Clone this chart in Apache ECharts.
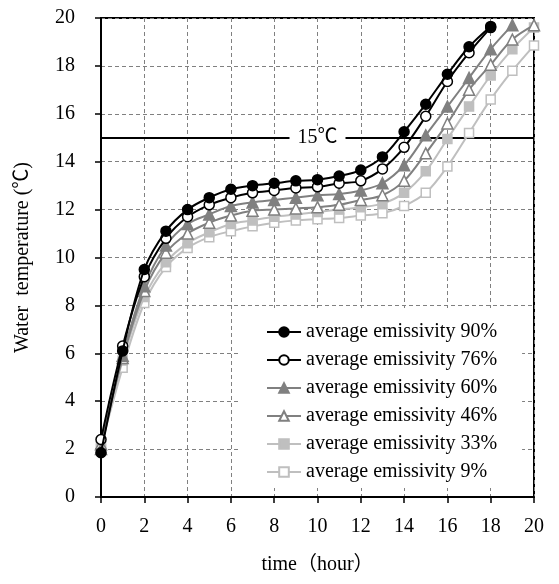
<!DOCTYPE html>
<html>
<head>
<meta charset="utf-8">
<script src="https://cdn.jsdelivr.net/npm/echarts@6/dist/echarts.min.js"></script>
<style>
html,body{margin:0;padding:0;background:#fff;}
#chart{width:559px;height:584px;}
</style>
</head>
<body>
<div id="chart"></div>
<script>
const hours = [0,1,2,3,4,5,6,7,8,9,10,11,12,13,14,15,16,17,18,19,20];
const seriesNames = ['average emissivity 90%','average emissivity 76%','average emissivity 60%','average emissivity 46%','average emissivity 33%','average emissivity 9%'];
const e90 = [1.85,6.1,9.5,11.1,12.0,12.5,12.85,13.0,13.1,13.2,13.25,13.4,13.65,14.2,15.25,16.4,17.65,18.8,19.65];
const e76 = [2.4,6.3,9.2,10.8,11.7,12.2,12.5,12.7,12.8,12.9,12.95,13.1,13.2,13.7,14.6,15.9,17.35,18.55,19.6];
const e60 = [2.0,5.9,8.8,10.5,11.4,11.8,12.15,12.3,12.4,12.5,12.6,12.65,12.8,13.1,13.85,15.1,16.3,17.5,18.7,19.7];
const e46 = [2.2,5.8,8.6,10.2,11.0,11.45,11.75,11.95,12.0,12.05,12.1,12.2,12.4,12.6,13.2,14.35,15.6,17.0,18.05,19.1,19.7];
const e33 = [2.0,5.7,8.35,9.8,10.6,11.05,11.4,11.55,11.7,11.8,11.9,12.0,12.1,12.25,12.7,13.6,14.95,16.3,17.6,18.7,19.6];
const e9  = [2.1,5.4,8.1,9.6,10.4,10.85,11.1,11.3,11.45,11.55,11.6,11.65,11.75,11.85,12.15,12.7,13.8,15.2,16.6,17.8,18.85];
const refLevel = 15;
const refLabel = '15℃';
const xTitle = 'time（hour）';
const yTitle = 'Water  temperature (℃)';

const FONT = "'Liberation Serif', 'Noto Sans CJK JP', serif";
const styles = [
  {vals:e90, symbol:'circle',   line:'#000000', fill:'#000000', size:10},
  {vals:e76, symbol:'circle',   line:'#000000', fill:'#ffffff', size:10},
  {vals:e60, symbol:'triangle', line:'#808080', fill:'#808080', size:11},
  {vals:e46, symbol:'triangle', line:'#808080', fill:'#ffffff', size:11},
  {vals:e33, symbol:'rect',     line:'#bfbfbf', fill:'#bfbfbf', size:9},
  {vals:e9,  symbol:'rect',     line:'#bfbfbf', fill:'#ffffff', size:9}
];

const series = styles.map((s, i) => {
  const o = {
    name: seriesNames[i],
    type: 'line',
    smooth: 0.35,
    symbol: s.symbol,
    symbolSize: s.size,
    z: 10 - i,
    lineStyle: {color: s.line, width: 2},
    itemStyle: {color: s.fill, borderColor: s.line, borderWidth: 1.5},
    data: s.vals.map((v, k) => [hours[k], v]),
    animation: false
  };
  if (i === 0) {
    o.markLine = {
      silent: true,
      symbol: ['none','none'],
      animation: false,
      lineStyle: {color:'#000', width:2, type:'solid'},
      label: {show:true, position:'middle', distance:0, verticalAlign:'middle', formatter: refLabel, color:'#000',
              fontSize:20, fontFamily:FONT, backgroundColor:'#fff', padding:[2,8]},
      data: [{yAxis: refLevel}]
    };
  }
  return o;
});

const chart = echarts.init(document.getElementById('chart'), null, {renderer:'canvas'});
chart.setOption({
  backgroundColor: '#fff',
  animation: false,
  grid: {left:101, right:25, top:18, bottom:87, show:true, borderColor:'#000', borderWidth:2, backgroundColor:'transparent'},
  legend: {
    data: seriesNames,
    orient: 'vertical',
    left: 241, top: 308,
    padding: [14, 25, 6, 25],
    backgroundColor: '#fff',
    itemWidth: 34, itemHeight: 12,
    itemGap: 8,
    textStyle: {fontSize:20, fontFamily:FONT, color:'#000'}
  },
  xAxis: {
    type:'value', min:0, max:20, interval:2,
    name: xTitle, nameLocation:'middle', nameGap:58,
    nameTextStyle:{fontSize:20, fontFamily:FONT, color:'#000'},
    axisLine:{show:true, lineStyle:{color:'#000', width:2}},
    axisTick:{show:true, inside:false, length:6, lineStyle:{color:'#000', width:1.5}},
    axisLabel:{fontSize:20, fontFamily:FONT, color:'#000', margin:20},
    splitLine:{show:true, lineStyle:{color:'#808080', width:1, type:[4,3]}}
  },
  yAxis: {
    type:'value', min:0, max:20, interval:2,
    name: yTitle, nameLocation:'middle', nameGap:68, nameRotate:90,
    nameTextStyle:{fontSize:20, fontFamily:FONT, color:'#000'},
    axisLine:{show:true, lineStyle:{color:'#000', width:2}},
    axisTick:{show:true, inside:false, length:6, lineStyle:{color:'#000', width:1.5}},
    axisLabel:{fontSize:20, fontFamily:FONT, color:'#000', margin:26},
    splitLine:{show:true, lineStyle:{color:'#808080', width:1, type:[4,3]}}
  },
  series: series
});
</script>
</body>
</html>
